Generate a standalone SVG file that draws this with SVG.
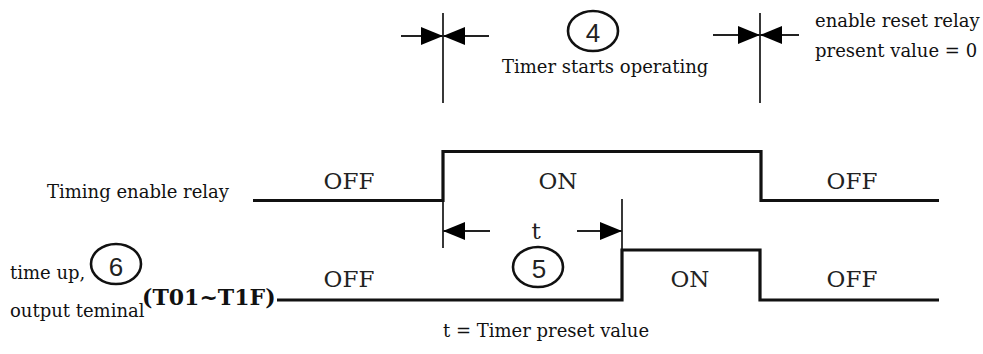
<svg xmlns="http://www.w3.org/2000/svg" width="983" height="354" viewBox="0 0 983 354">
<style>
.t{font-family:"DejaVu Serif","Liberation Serif",serif;font-size:18px;fill:#111}
.st{font-family:"DejaVu Serif","Liberation Serif",serif;font-size:23px;fill:#222;text-anchor:middle}
.num{font-family:"Liberation Sans",Arial,sans-serif;font-size:26px;fill:#222;text-anchor:middle}
.bold{font-family:"DejaVu Serif","Liberation Serif",serif;font-size:22px;font-weight:bold;fill:#111}
.wave{fill:none;stroke:#111;stroke-width:3.2}
.mk{fill:none;stroke:#222;stroke-width:1.8}
.circ{fill:none;stroke:#111;stroke-width:2.6}
</style>
<defs>
<marker id="ah" markerUnits="userSpaceOnUse" viewBox="0 0 22 18" markerWidth="22" markerHeight="18" refX="22" refY="9" orient="auto">
<path d="M0,0 L22,9 L0,18 Z" fill="#000"/>
</marker>
</defs>
<rect width="983" height="354" fill="#fff"/>
<g id="connectors">
<g id="marker-start">
<line class="mk" x1="443" y1="13" x2="443" y2="103"/>
<line class="mk" x1="401" y1="36" x2="443" y2="36" marker-end="url(#ah)"/>
<line class="mk" x1="489" y1="36" x2="443" y2="36" marker-end="url(#ah)"/>
</g>
<g id="marker-reset">
<line class="mk" x1="760" y1="13" x2="760" y2="103"/>
<line class="mk" x1="713" y1="35" x2="760" y2="35" marker-end="url(#ah)"/>
<line class="mk" x1="799" y1="35" x2="760" y2="35" marker-end="url(#ah)"/>
</g>
<g id="marker-t">
<line class="mk" x1="443" y1="200" x2="443" y2="248"/>
<line class="mk" x1="622" y1="199" x2="622" y2="250"/>
<line class="mk" x1="490" y1="231" x2="443" y2="231" marker-end="url(#ah)"/>
<line class="mk" x1="577" y1="231" x2="622" y2="231" marker-end="url(#ah)"/>
</g>
</g>
<g id="enable-relay">
<text class="t" x="47" y="198">Timing enable relay</text>
<path class="wave" d="M253,200.5 H443 V151.5 H761 V200.5 H939"/>
<text class="st" x="349" y="189">OFF</text>
<text class="st" x="558" y="189">ON</text>
<text class="st" x="852" y="189">OFF</text>
</g>
<g id="output-terminal">
<text class="t" x="10" y="279">time up,</text>
<text class="t" x="10" y="317">output teminal</text>
<text class="bold" x="142" y="305">(T01~T1F)</text>
<path class="wave" d="M277,300 H622 V250 H760 V300 H939"/>
<text class="st" x="349" y="287">OFF</text>
<text class="st" x="690" y="287">ON</text>
<text class="st" x="852" y="287">OFF</text>
</g>
<g id="label-4">
<ellipse class="circ" cx="593" cy="31" rx="25" ry="20"/>
<text class="num" x="593" y="42">4</text>
<text class="t" x="502" y="73">Timer starts operating</text>
</g>
<g id="label-reset">
<text class="t" x="815" y="27">enable reset relay</text>
<text class="t" x="815" y="57">present value = 0</text>
</g>
<g id="label-5">
<text class="st" x="536" y="239">t</text>
<ellipse class="circ" cx="538" cy="267" rx="25" ry="20"/>
<text class="num" x="539" y="278">5</text>
</g>
<g id="label-6">
<ellipse class="circ" cx="116" cy="264" rx="25" ry="20"/>
<text class="num" x="116" y="276">6</text>
</g>
<g id="legend">
<text class="t" x="443" y="337">t = Timer preset value</text>
</g>
</svg>
